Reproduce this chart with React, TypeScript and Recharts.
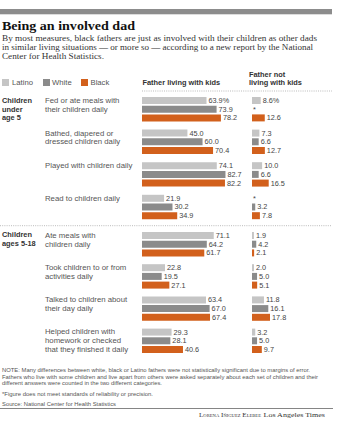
import { Bar, BarChart, LabelList, XAxis, YAxis } from "recharts";

// row labels, one entry per activity (each entry = wrapped lines)
const activities = [
  ["Fed or ate meals with", "their children daily"],
  ["Bathed, diapered or", "dressed children daily"],
  ["Played with children daily"],
  ["Read to children daily"],
  ["Ate meals with", "children daily"],
  ["Took children to or from", "activities daily"],
  ["Talked to children about", "their day daily"],
  ["Helped children with", "homework or checked", "that they finished it daily"],
];

// percent of fathers, living with kids
const latinoWith = [63.9, 45.0, 74.1, 21.9, 71.1, 22.8, 63.4, 29.3];
const whiteWith = [73.9, 60.0, 82.7, 30.2, 64.2, 19.5, 67.0, 28.1];
const blackWith = [78.2, 70.4, 82.2, 34.9, 61.7, 27.1, 67.4, 40.6];

// percent of fathers, not living with kids (null = unreliable, shown as *)
const latinoApart = [8.6, 7.3, 10.0, null, 1.9, 2.0, 11.8, 3.2];
const whiteApart = [null, 6.6, 6.6, 3.2, 4.2, 5.0, 16.1, 5.0];
const blackApart = [12.6, 12.7, 16.5, 7.8, 2.1, 5.1, 17.8, 9.7];

const sections = [
  { title: ["Children", "under", "age 5"], from: 0, to: 4 },
  { title: ["Children", "ages 5-18"], from: 4, to: 8 },
];

const notes = [
  "NOTE: Many differences between white, black or Latino fathers were not statistically significant due to margins of error.",
  "Fathers who live with some children and live apart from others were asked separately about each set of children and their",
  "different answers were counted in the two different categories.",
  "*Figure does not meet standards of reliability or precision.",
  "Source: National Center for Health Statistics",
];

const LATINO = "#c5c5c5";
const WHITE = "#8b8b8b";
const BLACK = "#d2601c";
const SANS = "'Liberation Sans', Arial, sans-serif";
const SERIF = "'Liberation Serif', 'Times New Roman', serif";

type Val = number | null;

function fmt(v: Val, pct: boolean): string {
  if (v === null) return "*";
  return v.toFixed(1) + (pct ? "%" : "");
}

function buildRows(from: number, to: number, l: Val[], w: Val[], b: Val[]) {
  const rows = [];
  for (let i = from; i < to; i++) {
    rows.push({
      key: String(i),
      latino: l[i] ?? 0,
      white: w[i] ?? 0,
      black: b[i] ?? 0,
      latinoText: fmt(l[i], i === 0),
      whiteText: fmt(w[i], false),
      blackText: fmt(b[i], false),
    });
  }
  return rows;
}

function ValueLabel(props: any) {
  const { x, y, width, height, value } = props;
  const star = value === "*";
  return (
    <text
      x={star ? x + 1 : x + width + 2}
      y={y + height / 2}
      dominantBaseline="central"
      fontSize={7.3}
      fontFamily={SANS}
      fill="#444"
    >
      {value}
    </text>
  );
}

function RowTick(props: any) {
  const { y, payload } = props;
  const lines = activities[Number(payload.value)];
  return (
    <g>
      {lines.map((t, k) => (
        <text
          key={k}
          x={45}
          y={y - 8.7 + k * 8.7}
          dominantBaseline="central"
          fontSize={7.8}
          fontFamily={SANS}
          fill="#555"
        >
          {t}
        </text>
      ))}
    </g>
  );
}

function series() {
  // minPointSize keeps a hairline rect for the unreliable (*) entries so their label still renders
  return [
    <Bar key="l" dataKey="latino" fill={LATINO} barSize={7} minPointSize={0.01} isAnimationActive={false}>
      <LabelList dataKey="latinoText" content={ValueLabel} />
    </Bar>,
    <Bar key="w" dataKey="white" fill={WHITE} barSize={7} minPointSize={0.01} isAnimationActive={false}>
      <LabelList dataKey="whiteText" content={ValueLabel} />
    </Bar>,
    <Bar key="b" dataKey="black" fill={BLACK} barSize={7} minPointSize={0.01} isAnimationActive={false}>
      <LabelList dataKey="blackText" content={ValueLabel} />
    </Bar>,
  ];
}

const sectionBoxes = [
  { top: 92.7, height: 130.4 },
  { top: 227.9, height: 128.8 },
];

export default function App() {
  return (
    <div
      style={{
        position: "absolute",
        left: 0,
        top: 0,
        width: 359,
        height: 421,
        background: "#fff",
        overflow: "hidden",
      }}
    >
      {sections.map((s, si) => {
        const box = sectionBoxes[si];
        const withRows = buildRows(s.from, s.to, latinoWith, whiteWith, blackWith);
        const apartRows = buildRows(s.from, s.to, latinoApart, whiteApart, blackApart);
        return (
          <div key={si}>
            <div style={{ position: "absolute", left: 0, top: box.top }}>
              <BarChart
                layout="vertical"
                width={250}
                height={box.height}
                data={withRows}
                margin={{ top: 0, right: 0, bottom: 0, left: 0 }}
                barGap={1.7}
              >
                <XAxis type="number" domain={[0, 107]} hide />
                <YAxis
                  type="category"
                  dataKey="key"
                  width={142}
                  axisLine={false}
                  tickLine={false}
                  interval={0}
                  tick={RowTick}
                />
                {series()}
              </BarChart>
            </div>
            <div style={{ position: "absolute", left: 252, top: box.top }}>
              <BarChart
                layout="vertical"
                width={80}
                height={box.height}
                data={apartRows}
                margin={{ top: 0, right: 0, bottom: 0, left: 0 }}
                barGap={1.7}
              >
                <XAxis type="number" domain={[0, 79]} hide />
                <YAxis type="category" dataKey="key" hide />
                {series()}
              </BarChart>
            </div>
          </div>
        );
      })}

      <svg
        width={359}
        height={421}
        style={{ position: "absolute", left: 0, top: 0, pointerEvents: "none" }}
      >
        <rect x={0} y={9} width={332} height={5.3} fill="#8c8c8c" />
        <text x={2} y={25} dominantBaseline="central" fontFamily={SERIF} fontWeight="bold" fontSize={13} fill="#111" textLength={133} lengthAdjust="spacingAndGlyphs">
          Being an involved dad
        </text>
        <g fontFamily={SERIF} fontSize={8.4} fill="#333">
          <text x={2} y={38.3} dominantBaseline="central" textLength={315} lengthAdjust="spacingAndGlyphs">
            By most measures, black fathers are just as involved with their children as other dads
          </text>
          <text x={2} y={47.3} dominantBaseline="central" textLength={311} lengthAdjust="spacingAndGlyphs">
            in similar living situations — or more so — according to a new report by the National
          </text>
          <text x={2} y={56} dominantBaseline="central" textLength={102} lengthAdjust="spacingAndGlyphs">
            Center for Health Statistics.
          </text>
        </g>

        {/* legend */}
        <g fontFamily={SANS} fontSize={7.7} fill="#555">
          <rect x={2} y={79} width={7} height={7} fill={LATINO} />
          <text x={12} y={82.5} dominantBaseline="central">Latino</text>
          <rect x={43} y={79} width={7} height={7} fill={WHITE} />
          <text x={52} y={82.5} dominantBaseline="central">White</text>
          <rect x={81} y={79} width={7} height={7} fill={BLACK} />
          <text x={90.5} y={82.5} dominantBaseline="central">Black</text>
        </g>

        {/* column headers */}
        <g fontFamily={SANS} fontSize={7.4} fontWeight="bold" fill="#333">
          <text x={142.5} y={82.5} dominantBaseline="central">Father living with kids</text>
          <text x={249} y={74.5} dominantBaseline="central">Father not</text>
          <text x={249} y={82.5} dominantBaseline="central">living with kids</text>
        </g>
        <line x1={142} x2={332} y1={91} y2={91} stroke="#aaa" strokeWidth={0.8} strokeDasharray="1 1.2" />
        <line x1={0} x2={332} y1={225.7} y2={225.7} stroke="#aaa" strokeWidth={0.8} strokeDasharray="1 1.2" />

        {/* section titles */}
        <g fontFamily={SANS} fontSize={7.4} fontWeight="bold" fill="#333">
          {sections[0].title.map((t, k) => (
            <text key={k} x={2} y={100.3 + k * 8.7} dominantBaseline="central">{t}</text>
          ))}
          {sections[1].title.map((t, k) => (
            <text key={k} x={2} y={234.5 + k * 8.7} dominantBaseline="central">{t}</text>
          ))}
        </g>

        {/* notes */}
        <g fontFamily={SANS} fontSize={5.7} fill="#555">
          <text x={2} y={370} dominantBaseline="central" textLength={308} lengthAdjust="spacingAndGlyphs">{notes[0]}</text>
          <text x={2} y={376.7} dominantBaseline="central" textLength={316} lengthAdjust="spacingAndGlyphs">{notes[1]}</text>
          <text x={2} y={383.3} dominantBaseline="central" textLength={160} lengthAdjust="spacingAndGlyphs">{notes[2]}</text>
          <text x={2} y={394} dominantBaseline="central" textLength={151} lengthAdjust="spacingAndGlyphs">{notes[3]}</text>
          <text x={2} y={404} dominantBaseline="central" textLength={114} lengthAdjust="spacingAndGlyphs">{notes[4]}</text>
        </g>
        <line x1={0} x2={333} y1={408.5} y2={408.5} stroke="#666" strokeWidth={0.8} />
        <g fontFamily={SERIF} fontSize={6.2} fill="#333">
          <text x={199} y={414.5} dominantBaseline="central" fontVariant="small-caps" textLength={62} lengthAdjust="spacingAndGlyphs">
            Lorena Iñiguez Elebee
          </text>
          <text x={263.5} y={414.5} dominantBaseline="central" textLength={61.5} lengthAdjust="spacingAndGlyphs">
            Los Angeles Times
          </text>
        </g>
      </svg>
    </div>
  );
}
